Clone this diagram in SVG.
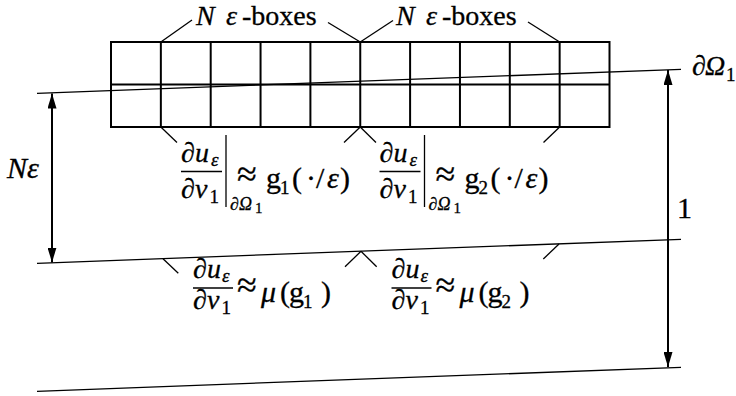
<svg xmlns="http://www.w3.org/2000/svg" width="736" height="396" viewBox="0 0 736 396" font-family="'Liberation Serif', 'Times New Roman', serif">
<defs>
<style>
.grid{stroke:#000;stroke-width:2;fill:none}
.ln{stroke:#000;stroke-width:1.3;fill:none}
.arr{stroke:#000;stroke-width:2;fill:none}
text{font-family:'Liberation Serif','Times New Roman',serif;fill:#000;stroke:#000;stroke-width:0.3}
.it{font-style:italic}
.b{font-size:28px}
.t{font-size:30px}
.m{font-size:28px}
.ap{font-size:36px}
.s{font-size:19px}
.xs{font-size:18px}
.ss{font-size:15px}
</style>
<marker id="ah" markerUnits="userSpaceOnUse" markerWidth="16" markerHeight="9" refX="15" refY="4.5" orient="auto-start-reverse">
<path d="M0,0 L15,4.5 L0,9 z" fill="#000"/>
</marker>
</defs>
<rect width="736" height="396" fill="#fff"/>

<g id="grid">
<rect class="grid" x="111" y="42" width="498.5" height="85"/>
<line class="grid" x1="111" y1="84.5" x2="609.5" y2="84.5"/>
<line class="grid" x1="160.85" y1="42" x2="160.85" y2="127"/>
<line class="grid" x1="210.7" y1="42" x2="210.7" y2="127"/>
<line class="grid" x1="260.55" y1="42" x2="260.55" y2="127"/>
<line class="grid" x1="310.4" y1="42" x2="310.4" y2="127"/>
<line class="grid" x1="360.25" y1="42" x2="360.25" y2="127"/>
<line class="grid" x1="410.1" y1="42" x2="410.1" y2="127"/>
<line class="grid" x1="459.95" y1="42" x2="459.95" y2="127"/>
<line class="grid" x1="509.8" y1="42" x2="509.8" y2="127"/>
<line class="grid" x1="559.65" y1="42" x2="559.65" y2="127"/>
</g>

<g id="boundaries">
<line class="ln" x1="37" y1="93.3" x2="681" y2="69.3"/>
<line class="ln" x1="37" y1="263.3" x2="681" y2="239.3"/>
<line class="ln" x1="37" y1="391.3" x2="681" y2="367.3"/>
</g>

<g id="connectors">
<line class="ln" x1="160.85" y1="42" x2="192" y2="20"/>
<line class="ln" x1="360.25" y1="42" x2="328" y2="22.5"/>
<line class="ln" x1="360.25" y1="42" x2="393" y2="20.5"/>
<line class="ln" x1="559.65" y1="42" x2="528" y2="22"/>
<line class="ln" x1="160.85" y1="127" x2="177" y2="142.5"/>
<line class="ln" x1="360.25" y1="127" x2="344" y2="142.5"/>
<line class="ln" x1="360.25" y1="127" x2="376" y2="142.5"/>
<line class="ln" x1="559.65" y1="127" x2="543.5" y2="142.5"/>
<line class="ln" x1="163" y1="258.7" x2="178.3" y2="273.3"/>
<line class="ln" x1="361" y1="251.3" x2="345" y2="266.7"/>
<line class="ln" x1="361" y1="251.3" x2="376.7" y2="266.7"/>
<line class="ln" x1="559" y1="244" x2="543.3" y2="259"/>
<line class="arr" x1="52" y1="93.5" x2="52" y2="262.5" marker-start="url(#ah)" marker-end="url(#ah)"/>
<line class="arr" x1="668" y1="70" x2="668" y2="367" marker-start="url(#ah)" marker-end="url(#ah)"/>
</g>

<g id="label-boxes-1">
<text class="b" y="25"><tspan class="it" x="196">N</tspan><tspan class="it" x="226">ε</tspan><tspan x="242">-boxes</tspan></text>
</g>
<g id="label-boxes-2">
<text class="b" y="25"><tspan class="it" x="396">N</tspan><tspan class="it" x="426">ε</tspan><tspan x="442">-boxes</tspan></text>
</g>

<g id="label-boundary">
<text class="m" y="75"><tspan x="692">∂</tspan><tspan class="it" x="705">Ω</tspan><tspan class="s" x="726" dy="6">1</tspan></text>
</g>

<g id="label-Neps">
<text class="t it" x="7" y="178">Nε</text>
</g>

<g id="label-one">
<text class="t" x="677" y="218">1</text>
</g>

<g id="formula-1">
<text class="m" y="161.5"><tspan x="181">∂</tspan><tspan class="it" x="195">u</tspan><tspan class="s it" x="211" dy="4">ε</tspan></text>
<line class="ln" x1="181" y1="171.5" x2="222" y2="171.5"/>
<text class="m" y="198"><tspan x="181">∂</tspan><tspan class="it" x="195">ν</tspan><tspan class="s" x="209.5" dy="5">1</tspan></text>
<line class="ln" x1="226" y1="135" x2="226" y2="207"/>
<text class="xs" y="210"><tspan x="230">∂</tspan><tspan class="it" x="239">Ω</tspan><tspan class="ss" x="255" dy="3">1</tspan></text>
<text class="ap" x="237" y="186">≈</text>
<text class="t" y="188"><tspan x="266">g</tspan><tspan class="s" x="280" dy="6">1</tspan><tspan x="292" dy="-6">(</tspan><tspan x="306">·</tspan><tspan x="316">/</tspan><tspan class="it" x="327">ε</tspan><tspan x="340">)</tspan></text>
</g>

<g id="formula-2" transform="translate(198.5,0)">
<text class="m" y="161.5"><tspan x="181">∂</tspan><tspan class="it" x="195">u</tspan><tspan class="s it" x="211" dy="4">ε</tspan></text>
<line class="ln" x1="181" y1="171.5" x2="222" y2="171.5"/>
<text class="m" y="198"><tspan x="181">∂</tspan><tspan class="it" x="195">ν</tspan><tspan class="s" x="209.5" dy="5">1</tspan></text>
<line class="ln" x1="226" y1="135" x2="226" y2="207"/>
<text class="xs" y="210"><tspan x="230">∂</tspan><tspan class="it" x="239">Ω</tspan><tspan class="ss" x="255" dy="3">1</tspan></text>
<text class="ap" x="237" y="186">≈</text>
<text class="t" y="188"><tspan x="266">g</tspan><tspan class="s" x="280" dy="6">2</tspan><tspan x="292" dy="-6">(</tspan><tspan x="306">·</tspan><tspan x="316">/</tspan><tspan class="it" x="327">ε</tspan><tspan x="340">)</tspan></text>
</g>

<g id="formula-3">
<text class="m" y="277.5"><tspan x="193">∂</tspan><tspan class="it" x="207">u</tspan><tspan class="s it" x="222" dy="4">ε</tspan></text>
<line class="ln" x1="193" y1="288" x2="233" y2="288"/>
<text class="m" y="309"><tspan x="193">∂</tspan><tspan class="it" x="207">ν</tspan><tspan class="s" x="221.5" dy="5">1</tspan></text>
<text class="ap" x="237" y="297">≈</text>
<text class="t" y="302"><tspan class="it" x="261">μ</tspan><tspan x="280">(</tspan><tspan x="289">g</tspan><tspan class="s" x="303" dy="6">1</tspan><tspan x="321" dy="-6">)</tspan></text>
</g>

<g id="formula-4" transform="translate(198.5,0)">
<text class="m" y="277.5"><tspan x="193">∂</tspan><tspan class="it" x="207">u</tspan><tspan class="s it" x="222" dy="4">ε</tspan></text>
<line class="ln" x1="193" y1="288" x2="233" y2="288"/>
<text class="m" y="309"><tspan x="193">∂</tspan><tspan class="it" x="207">ν</tspan><tspan class="s" x="221.5" dy="5">1</tspan></text>
<text class="ap" x="237" y="297">≈</text>
<text class="t" y="302"><tspan class="it" x="261">μ</tspan><tspan x="280">(</tspan><tspan x="289">g</tspan><tspan class="s" x="303" dy="6">2</tspan><tspan x="321" dy="-6">)</tspan></text>
</g>
</svg>
